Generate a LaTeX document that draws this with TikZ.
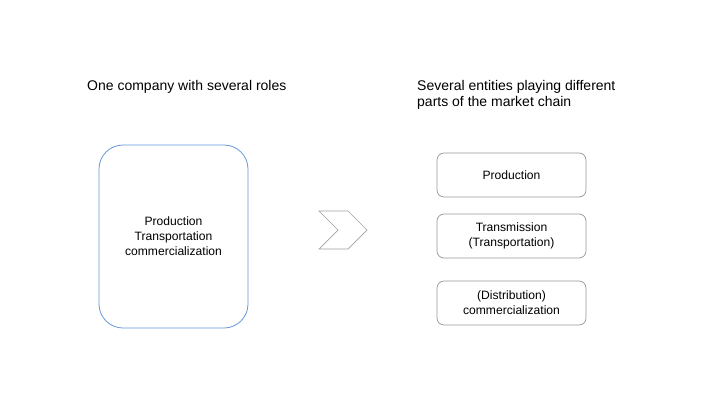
\documentclass[tikz,border=0pt]{standalone}
\usepackage{fontspec}
\setmainfont{Liberation Sans}
\definecolor{boxblue}{RGB}{100,150,215}
\definecolor{boxgray}{RGB}{150,150,150}
\definecolor{chevgray}{RGB}{160,160,160}
\begin{document}
\begin{tikzpicture}[x=1pt,y=-1pt,
  bigbox/.style={draw=boxblue,line width=0.8pt,rounded corners=24pt,minimum width=149pt,minimum height=183pt,align=center,font=\fontsize{12.1}{15}\selectfont,inner sep=0pt},
  smallbox/.style={draw=boxgray,line width=0.7pt,rounded corners=7pt,minimum width=149pt,minimum height=44pt,align=center,font=\fontsize{12.1}{15}\selectfont,inner sep=0pt},
  titletext/.style={anchor=west,align=left,font=\fontsize{14}{16}\selectfont,inner sep=0pt}]
\useasboundingbox (0,0) rectangle (720,405);
\node[titletext] (t1) at (87,87) {One company with several roles};
\node[titletext] (t2) at (417,95) {Several entities playing different\\parts of the market chain};
\node[bigbox] (big) at (173.5,236.5) {Production\\Transportation\\commercialization};
\node[smallbox] (p) at (511.5,175) {Production};
\node[smallbox] (t) at (511.5,236) {Transmission\\(Transportation)};
\node[smallbox] (d) at (511.5,303) {(Distribution)\\commercialization};
\draw[chevgray,line width=0.7pt] (319,211) coordinate (c1) -- (348,211) -- (367,230) -- (348,249) -- (319,249) -- (338,230) -- cycle;
\end{tikzpicture}
\end{document}
